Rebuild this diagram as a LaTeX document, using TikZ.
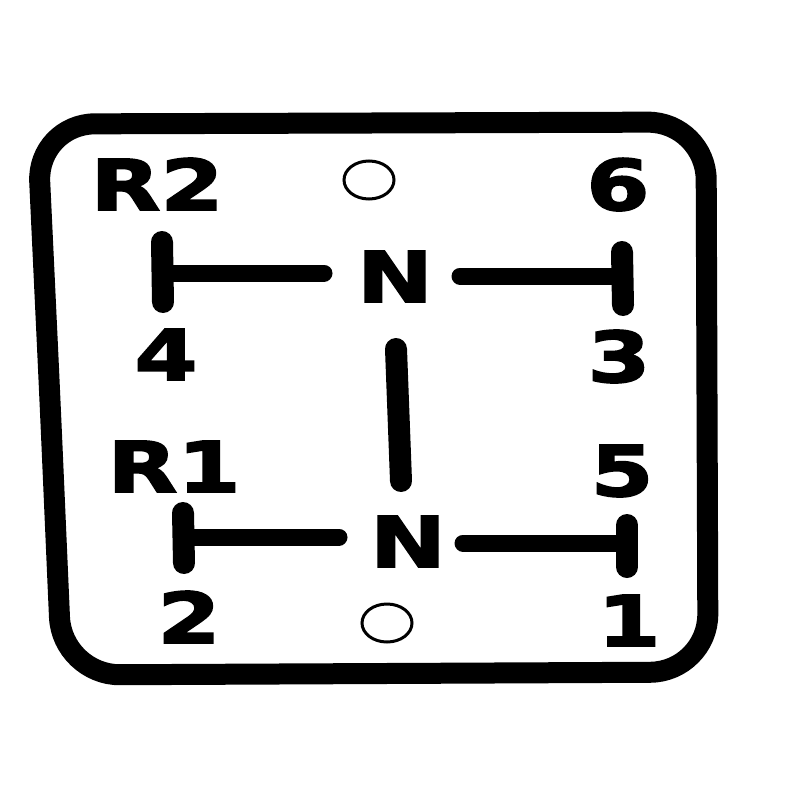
\documentclass[tikz,border=0pt]{standalone}
\usepackage{fontspec}
\newfontfamily\gearfont[FakeStretch=1.3,FakeBold=2.5]{DejaVu Sans Bold}
\begin{document}
\begin{tikzpicture}[x=1pt,y=-1pt,
  lbl/.style={anchor=base,inner sep=0pt,font=\gearfont\fontsize{70}{70}\selectfont},
  border/.style={line width=21pt,line join=round},
  gate/.style={line width=17pt,line cap=round},
  barline/.style={line width=22pt,line cap=round},
  hole/.style={line width=3pt}]
\useasboundingbox (0,0) rectangle (800,800);
\fill[white] (0,0) rectangle (800,800);
% plate outline
\draw[border,rounded corners=58] (50,400) -- (37,124) -- (706,122) -- (708,672) -- (62,675) -- cycle;
% holes
\draw[hole] (369,180) ellipse [x radius=25, y radius=19];
\draw[hole] (387,623) ellipse [x radius=25, y radius=19];
% labels
\node[lbl] (r2) at (157,210) {R2};
\node[lbl] (g6) at (618,210) {6};
\node[lbl] (g4) at (166,380) {4};
\node[lbl] (g3) at (619,382) {3};
\node[lbl] (r1) at (174,492) {R1};
\node[lbl] (g5) at (622,496) {5};
\node[lbl] (g2) at (189,643) {2};
\node[lbl] (g1) at (629,646) {1};
\node[lbl] (n1) at (395,302) {N};
\node[lbl] (n2) at (408,567) {N};
% gate coordinates
\coordinate (ulT) at (162,242); \coordinate (ulB) at (163,302);
\coordinate (ulH) at (162,273); \coordinate (ulE) at (324,273);
\coordinate (urT) at (622,252); \coordinate (urB) at (623,305);
\coordinate (urH) at (622,276); \coordinate (urS) at (460,276);
\coordinate (cT) at (396,349); \coordinate (cB) at (401,481);
\coordinate (llT) at (183,513); \coordinate (llB) at (184,563);
\coordinate (llH) at (183,537); \coordinate (llE) at (339,537);
\coordinate (lrT) at (627,525); \coordinate (lrB) at (627,567);
\coordinate (lrH) at (627,543); \coordinate (lrS) at (463,543);
% gates
\draw[barline] (ulT) -- (ulB);
\draw[gate] (ulH) -- (ulE);
\draw[barline] (urT) -- (urB);
\draw[gate] (urS) -- (urH);
\draw[barline] (cT) -- (cB);
\draw[barline] (llT) -- (llB);
\draw[gate] (llH) -- (llE);
\draw[barline] (lrT) -- (lrB);
\draw[gate] (lrS) -- (lrH);
\end{tikzpicture}
\end{document}
